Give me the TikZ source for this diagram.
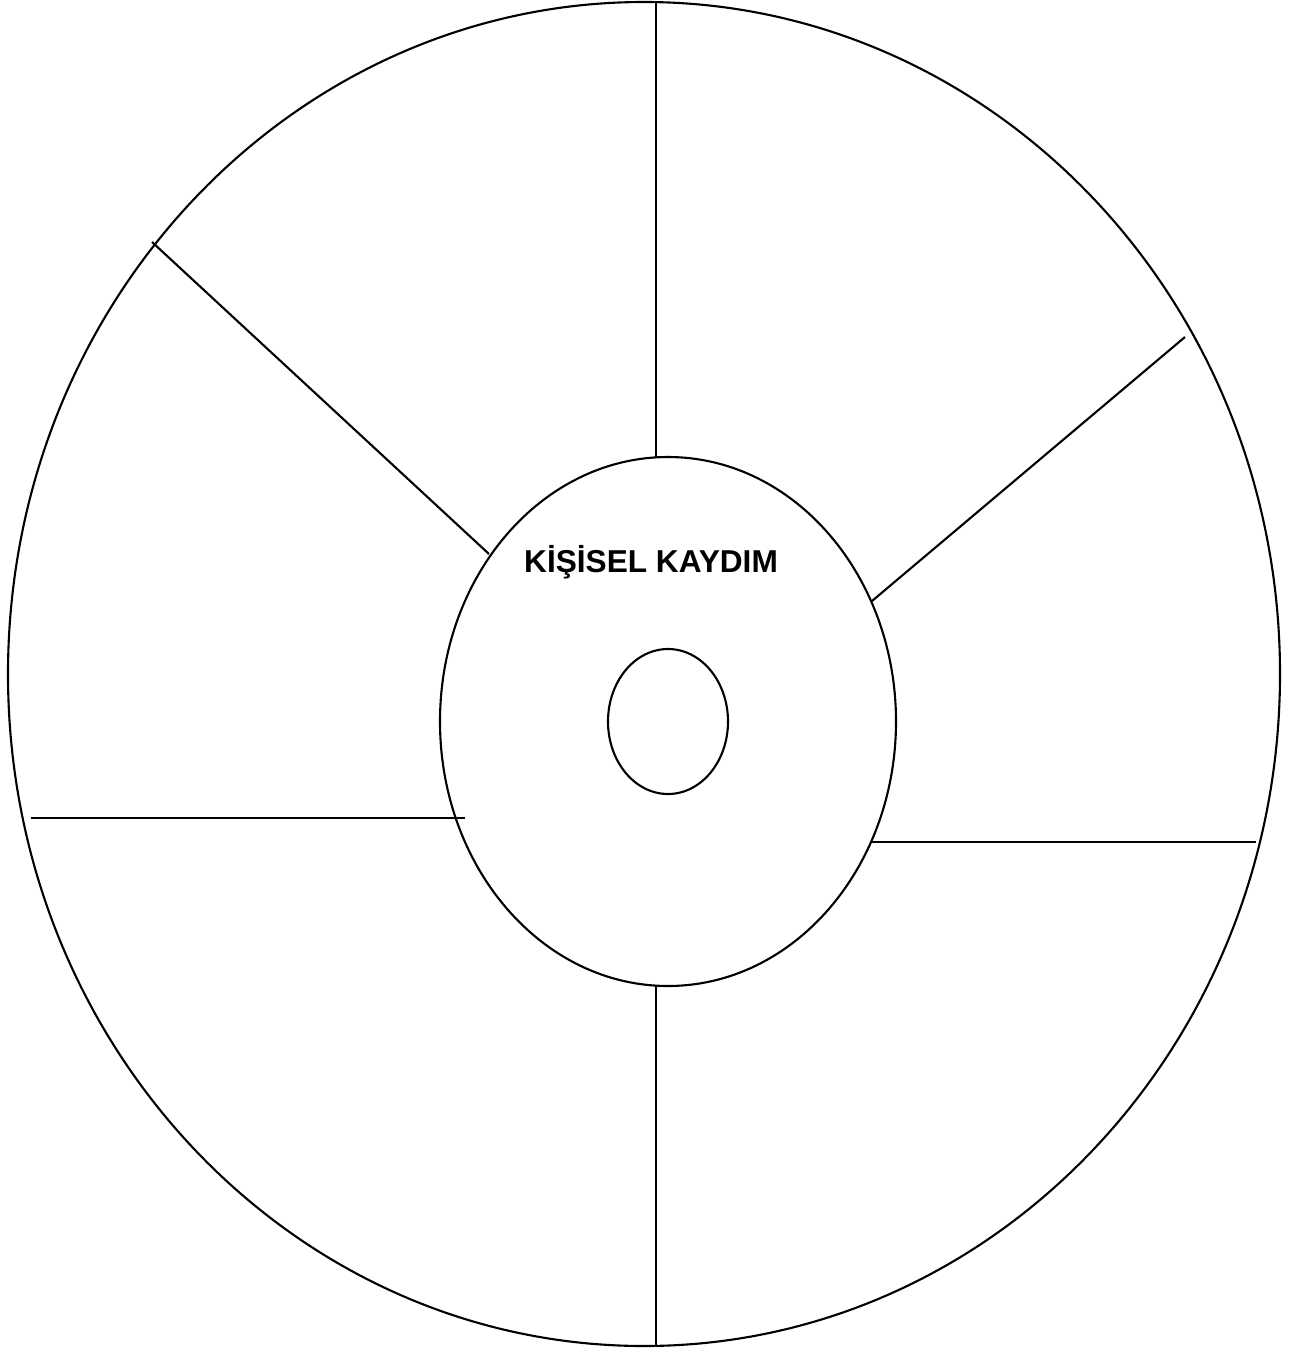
\documentclass[tikz,border=0pt]{standalone}
\usepackage{fontspec}
\setmainfont{Liberation Sans}
\usetikzlibrary{positioning}

\begin{document}
\begin{tikzpicture}[line width=0.6pt]

\useasboundingbox (0,0) rectangle (12.96,-13.48);

% Rings
\draw (6.44,-6.74)   ellipse (6.36 and 6.72);   % outer
\draw (6.68,-7.215)  ellipse (2.28 and 2.645);  % middle
\draw (6.68,-7.215)  ellipse (0.60 and 0.725);  % inner

% Spokes
\draw (6.56,-0.02)  -- (6.56,-4.57);
\draw (6.56,-9.86)  -- (6.56,-13.46);
\draw (1.52,-2.42)  -- (4.89,-5.54);
\draw (11.85,-3.37) -- (8.72,-6.01);
\draw (0.31,-8.18)  -- (4.65,-8.18);
\draw (8.72,-8.42)  -- (12.56,-8.42);

% Title
\node[anchor=base,font=\fontsize{9}{11}\selectfont\bfseries] (title) at (6.51,-5.72) {KİŞİSEL KAYDIM};

\end{tikzpicture}
\end{document}
